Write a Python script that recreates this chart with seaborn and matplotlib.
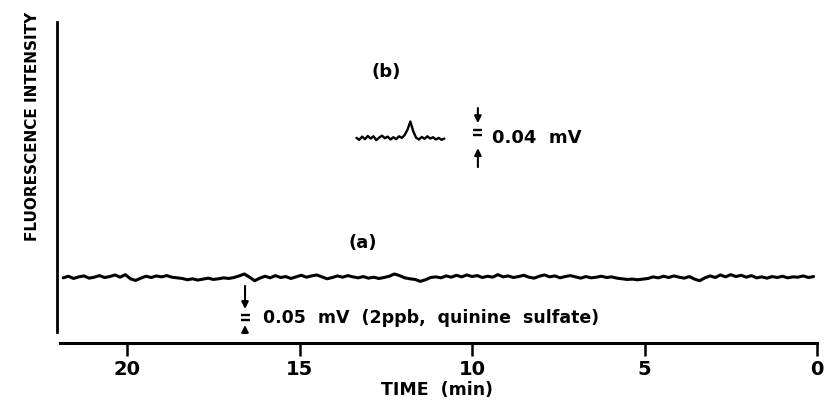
import numpy as np
import pandas as pd
import matplotlib
matplotlib.use("Agg")
import matplotlib.pyplot as plt
import seaborn as sns

# -----------------------------------------------------------------------------
# Données (unités arbitraires, axe Y de 0 à 100)
# -----------------------------------------------------------------------------

# trace (a) : bruit de fond, de 21.85 à ~0.1 min
trace_a = [
    20.3, 20.8, 20.1, 20.6, 20.9, 20.2, 20.5, 21.0, 20.4, 20.7, 21.2, 20.5,
    21.3, 20.0, 19.5, 20.2, 20.8, 20.4, 20.9, 20.6, 21.0, 20.5,
    20.3, 20.1, 19.7, 20.0, 19.6, 19.9, 20.2, 19.8, 20.0, 20.3, 20.1, 20.4, 20.9, 21.5,
    20.5, 19.4, 20.2, 20.8, 20.3, 21.0, 20.4, 20.7, 20.1, 20.6, 21.1, 20.5, 20.9, 21.2,
    20.6, 20.0, 20.4, 20.9, 20.5, 21.0, 20.6, 20.3, 20.7, 20.2, 20.5, 20.1, 20.4, 20.8,
    21.5, 21.0, 20.3,
    20.0, 19.8, 19.2, 19.7,
    20.4, 20.6, 20.3, 20.9, 20.5, 21.1, 20.6, 21.2, 20.7, 21.0, 20.4, 20.8, 20.5, 21.3,
    20.6, 20.9, 20.4, 20.7, 21.1, 20.5, 20.2, 20.8, 21.2, 20.6, 20.9, 20.3, 20.7, 21.0,
    20.6, 20.2, 20.7, 20.3, 20.5, 20.8, 20.4, 20.6, 20.2, 20.0, 19.8, 19.9, 19.7, 19.9, 20.1,
    20.6, 20.3, 20.8, 20.4, 20.9, 20.5, 20.2, 20.7, 19.9, 19.4, 20.3,
    20.9, 20.4, 21.2, 20.6, 21.3, 20.7, 21.1, 20.5, 21.0, 20.3, 20.6, 20.2,
    20.7, 20.4, 20.8, 20.3, 20.6, 20.5, 20.9, 20.4, 20.7,
]
time_a_start, time_a_end = 21.85, 0.1

# trace (b) : zoom avec un petit pic vers 11.8 min
trace_b = [
    63.9, 63.3, 64.3, 63.5, 64.5, 63.7, 64.4, 63.2, 64.0, 64.6, 63.8, 64.3,
    63.4, 64.1, 63.5, 64.4, 63.9, 64.8, 66.5, 69.0, 66.0, 64.0, 63.4, 64.2,
    63.6, 64.4, 63.7, 64.1, 63.4, 63.9, 63.3, 63.7,
]
time_b_start, time_b_end = 13.35, 10.8

x_ticks = [20, 15, 10, 5, 0]

df_a = pd.DataFrame({'time': np.linspace(time_a_start, time_a_end, len(trace_a)),
                     'signal': trace_a})
df_b = pd.DataFrame({'time': np.linspace(time_b_start, time_b_end, len(trace_b)),
                     'signal': trace_b})

# -----------------------------------------------------------------------------
# Figure
# -----------------------------------------------------------------------------

sns.set_style("ticks")
plt.rcParams['font.family'] = ['DejaVu Sans']
plt.rcParams['text.color'] = 'black'
plt.rcParams['axes.labelcolor'] = 'black'
plt.rcParams['xtick.color'] = 'black'
plt.rcParams['axes.edgecolor'] = 'black'

fig = plt.figure(figsize=(8.25, 4.04), dpi=100)
ax = fig.add_axes([0.0691, 0.151, 0.9212, 0.7945])

sns.lineplot(data=df_a, x='time', y='signal', ax=ax, color='black', lw=2.2)
sns.lineplot(data=df_b, x='time', y='signal', ax=ax, color='black', lw=1.7)

ax.set_xlim(22.03, 0)
ax.set_ylim(0, 100)

# axes : spines séparés comme sur l'original
for side in ['top', 'right']:
    ax.spines[side].set_visible(False)
ax.spines['left'].set_linewidth(2.0)
ax.spines['bottom'].set_linewidth(2.2)
ax.spines['left'].set_bounds(3.4, 100)
ax.spines['bottom'].set_position(('data', 0))
ax.spines['bottom'].set_bounds(21.95, 0)

ax.set_xticks(x_ticks)
ax.set_xticklabels([str(t) for t in x_ticks], fontsize=14, fontweight='bold')
ax.tick_params(axis='x', direction='out', length=9, width=1.8, pad=3)
ax.set_yticks([])

ax.set_xlabel('TIME  (min)', fontsize=12.5, fontweight='bold', labelpad=2)
ax.set_ylabel('FLUORESCENCE INTENSITY', fontsize=11, fontweight='bold')
ax.yaxis.set_label_coords(-0.023, 0.675)

# étiquettes des traces
ax.text(13.16, 31.0, '(a)', fontsize=13, fontweight='bold', ha='center', va='center')
ax.text(12.49, 84.4, '(b)', fontsize=13, fontweight='bold', ha='center', va='center')

# barre d'échelle (a)
arr = dict(arrowstyle='-|>', lw=1.5, color='black', mutation_scale=10, shrinkA=0, shrinkB=0)
xa = 16.58
ax.annotate('', xy=(xa, 10.6), xytext=(xa, 17.8), arrowprops=arr)
ax.annotate('', xy=(xa, 5.6), xytext=(xa, 3.1), arrowprops=arr)
ax.hlines([8.7, 7.2], xa - 0.13, xa + 0.13, color='black', lw=1.7)
ax.text(16.06, 7.9, '0.05  mV  (2ppb,  quinine  sulfate)', fontsize=12.5,
        fontweight='bold', ha='left', va='center')

# barre d'échelle (b)
xb = 9.83
ax.annotate('', xy=(xb, 68.5), xytext=(xb, 73.2), arrowprops=arr)
ax.annotate('', xy=(xb, 60.7), xytext=(xb, 54.8), arrowprops=arr)
ax.hlines([66.4, 64.8], xb - 0.13, xb + 0.13, color='black', lw=1.7)
ax.text(9.42, 64.0, '0.04  mV', fontsize=13, fontweight='bold', ha='left', va='center')

plt.savefig('out.png', dpi=100)
plt.close()
